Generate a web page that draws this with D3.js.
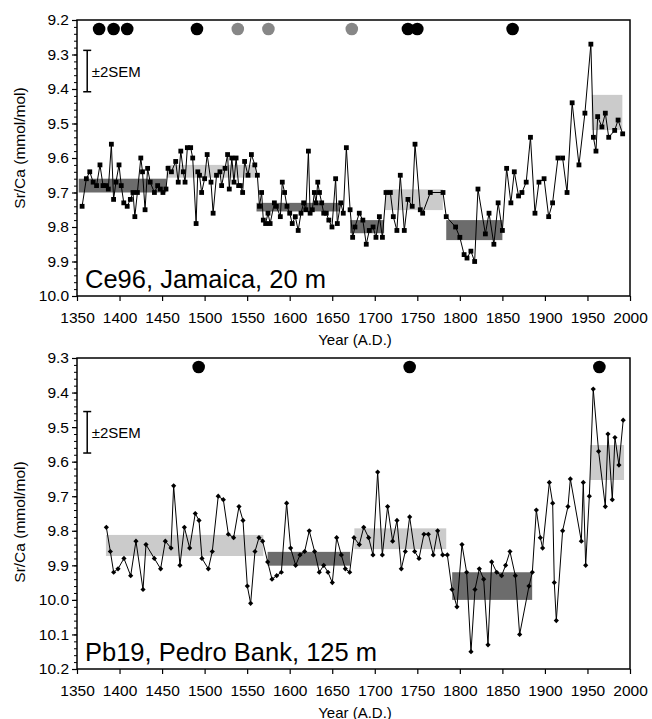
<!DOCTYPE html>
<html>
<head>
<meta charset="utf-8">
<script src="https://cdn.jsdelivr.net/npm/d3@7/dist/d3.min.js"></script>
<style>
  body { margin: 0; background: #fff; }
  svg text { font-family: "Liberation Sans", Arial, sans-serif; fill: #000; }
</style>
</head>
<body>
<script>
// ---- data: Ce96, Jamaica (20 m) ----
var ce96Years = [1356,1361,1365,1369,1373,1377,1380.6,1383.7,1386.8,1390.4,1393,1395.8,1399.4,1402,1405,1409,1412.7,1415.8,1418,1421,
  1425,1427,1430,1433,1436,1441,1444.8,1448,1451,1454.6,1457,1461,1466,1469,1472,1475,1477,1479.7,1483.6,1486,
  1490,1492,1494,1496.5,1500,1503,1507.5,1510,1514,1518,1520,1524,1527,1529,1532,1534.5,1537,1540,1542,1544.7,
  1547,1551,1555,1559,1562,1564.5,1567,1569,1571.7,1574.5,1577,1582,1584.3,1589,1591.3,1594,1596.8,1600,1603,1606.6,
  1610,1613.3,1616.4,1619,1622,1624,1626.6,1629,1631,1633,1635,1637.6,1640,1643,1646,1649.7,1654,1656,1660,1663,
  1666.6,1671,1674,1676.7,1681.8,1686,1690,1693.6,1698,1701.4,1705.4,1709,1713.2,1718.3,1721.8,1726,1730,1734.7,1739,1744,
  1747.3,1753.5,1756.3,1765.3,1780.2,1784,1795,1800,1805,1808.4,1813,1817.4,1821.3,1830,1834.3,1840,1845,1850,1855,1860,
  1864,1869,1873,1878,1883,1888.3,1893,1899,1904.4,1909,1915.3,1920.8,1926,1932,1940,1947,1954,1957,1960,1962,
  1967,1971,1975,1982,1986,1991.4];
var ce96SrCa = [9.74,9.66,9.64,9.67,9.68,9.62,9.68,9.68,9.69,9.56,9.72,9.67,9.62,9.68,9.73,9.74,9.72,9.70,9.77,9.70,
  9.60,9.64,9.75,9.63,9.67,9.70,9.68,9.69,9.70,9.69,9.63,9.64,9.61,9.67,9.58,9.64,9.67,9.57,9.57,9.60,
  9.79,9.64,9.65,9.70,9.66,9.59,9.67,9.76,9.65,9.64,9.68,9.63,9.59,9.69,9.60,9.67,9.60,9.68,9.68,9.70,
  9.61,9.65,9.59,9.62,9.65,9.74,9.70,9.78,9.79,9.76,9.79,9.73,9.74,9.77,9.67,9.70,9.74,9.76,9.79,9.77,
  9.81,9.76,9.73,9.75,9.58,9.76,9.75,9.70,9.73,9.67,9.70,9.73,9.76,9.76,9.78,9.80,9.66,9.79,9.73,9.76,
  9.57,9.75,9.83,9.80,9.76,9.78,9.85,9.81,9.80,9.83,9.77,9.83,9.70,9.70,9.77,9.81,9.65,9.81,9.72,9.74,
  9.56,9.75,9.76,9.70,9.70,9.77,9.80,9.83,9.88,9.89,9.87,9.90,9.69,9.82,9.76,9.85,9.73,9.81,9.63,9.73,
  9.64,9.71,9.70,9.67,9.54,9.76,9.67,9.66,9.77,9.73,9.60,9.60,9.70,9.44,9.62,9.47,9.27,9.54,9.58,9.48,
  9.51,9.47,9.54,9.52,9.49,9.53];
var ce96Bands = [
  {from: 1352, to: 1455, lo: 9.66, hi: 9.70, kind: "cool"},
  {from: 1455, to: 1561, lo: 9.62, hi: 9.657, kind: "warm"},
  {from: 1561, to: 1659, lo: 9.73, hi: 9.755, kind: "cool"},
  {from: 1671, to: 1711, lo: 9.78, hi: 9.818, kind: "cool"},
  {from: 1712, to: 1780, lo: 9.691, hi: 9.751, kind: "warm"},
  {from: 1784, to: 1850, lo: 9.78, hi: 9.838, kind: "cool"},
  {from: 1955, to: 1991, lo: 9.417, hi: 9.519, kind: "warm"}
];
var ce96Dates = [1376, 1393, 1409, 1491, 1539, 1575, 1673, 1739, 1750, 1862];
var ce96DateKind = ["u", "u", "u", "u", "c", "c", "c", "u", "u", "u"];

// ---- data: Pb19, Pedro Bank (125 m) ----
var pb19Years = [1384.5,1389.2,1393.1,1398.2,1405.2,1413.1,1419.3,1427.6,1431.1,1440.9,1448.3,1453.8,1460.5,1463.6,1471,1476.2,1482.4,1489,1493.4,1496.9,
  1504.4,1509,1516,1522,1527.9,1534.1,1540.4,1545.1,1550.2,1554.1,1559.2,1563.9,1568.2,1574.1,1579.2,1584.7,1590.2,1596.4,1601.1,1607,
  1612.1,1617.6,1623,1629.3,1634.8,1640,1645,1650.1,1655.2,1660.7,1665.4,1670.5,1675.6,1681.8,1687,1692.8,1697.9,1703.4,1708.9,1715.1,
  1721,1726.1,1731.2,1735.9,1741,1746.9,1752,1757.8,1763,1768.8,1773.9,1779.8,1785.3,1790.8,1796.6,1802.5,1808,1813.1,1817.8,1822.9,
  1828,1833.1,1837.4,1843.3,1849.1,1853.8,1858.9,1865.2,1870.3,1881.3,1885.2,1889.9,1894.6,1897.3,1905.2,1909.1,1911,1913.4,1920.8,1927.1,
  1929.9,1942.8,1945.1,1947.9,1952.2,1956.8,1963.1,1971,1974.1,1979.2,1982.3,1987,1992];
var pb19SrCa = [9.79,9.86,9.92,9.91,9.88,9.93,9.83,9.97,9.84,9.88,9.91,9.83,9.85,9.67,9.90,9.79,9.85,9.75,9.77,9.88,
  9.91,9.86,9.70,9.71,9.81,9.82,9.73,9.77,9.96,10.01,9.86,9.82,9.83,9.89,9.94,9.93,9.92,9.72,9.85,9.90,
  9.87,9.86,9.80,9.86,9.92,9.90,9.92,9.95,9.82,9.87,9.91,9.92,9.82,9.84,9.79,9.82,9.87,9.63,9.87,9.73,
  9.83,9.77,9.91,9.86,9.76,9.86,9.88,9.81,9.81,9.87,9.80,9.87,9.87,9.97,10.02,9.84,9.92,10.15,9.97,9.91,
  9.94,10.13,9.89,9.92,9.93,9.90,9.86,9.93,10.10,9.96,9.92,9.74,9.82,9.85,9.66,9.72,9.95,10.06,9.80,9.73,
  9.65,9.83,9.66,9.90,9.70,9.39,9.57,9.73,9.52,9.71,9.53,9.61,9.48];
var pb19Bands = [
  {from: 1384, to: 1569, lo: 9.812, hi: 9.873, kind: "warm"},
  {from: 1574, to: 1671, lo: 9.861, hi: 9.901, kind: "cool"},
  {from: 1676, to: 1784, lo: 9.793, hi: 9.853, kind: "warm"},
  {from: 1791, to: 1885, lo: 9.92, hi: 10.0, kind: "cool"},
  {from: 1953, to: 1993, lo: 9.552, hi: 9.653, kind: "warm"}
];
var pb19Dates = [1493, 1741, 1964];
var pb19DateKind = ["u", "u", "u"];

// axis ticks
var yearTicks = [1350,1400,1450,1500,1550,1600,1650,1700,1750,1800,1850,1900,1950,2000];
var ce96Ticks = [9.2,9.3,9.4,9.5,9.6,9.7,9.8,9.9,10.0];
var pb19Ticks = [9.3,9.4,9.5,9.6,9.7,9.8,9.9,10.0,10.1,10.2];

// ±2SEM bar: year, centre value, half width
var semYear = 1362;
var semCentre = [9.348, 9.515];
var semHalf = 0.06;

var W = 652, H = 719;
var left = 77, right = 630;

var svg = d3.select("body").append("svg")
            .attr("width", W)
            .attr("height", H);

var x = d3.scaleLinear().domain([1350, 2000]).range([left, right]);

var draw_panel = function(opt) {
  var y = d3.scaleLinear().domain(opt.yDomain).range([opt.top, opt.bottom]);
  var g = svg.append("g");

  // shaded intervals go under everything
  g.selectAll("rect.band").data(opt.bands).enter().append("rect")
    .attr("x", function(d) { return x(d.from); })
    .attr("width", function(d) { return x(d.to) - x(d.from); })
    .attr("y", function(d) { return y(d.lo); })
    .attr("height", function(d) { return y(d.hi) - y(d.lo); })
    .attr("fill", function(d) { return d.kind == "cool" ? "#6c6c6c" : "#cbcbcb"; });

  var pts = opt.years.map(function(yr, i) { return [yr, opt.values[i]]; });

  g.append("path").datum(pts)
    .attr("d", d3.line().x(function(d) { return x(d[0]); }).y(function(d) { return y(d[1]); }))
    .attr("fill", "none").attr("stroke", "#000").attr("stroke-width", 1);

  if (opt.marker == "square") {
    g.selectAll("rect.pt").data(pts).enter().append("rect")
      .attr("x", function(d) { return x(d[0]) - 2.4; })
      .attr("y", function(d) { return y(d[1]) - 2.4; })
      .attr("width", 4.8).attr("height", 4.8).attr("fill", "#000");
  } else {
    g.selectAll("path.pt").data(pts).enter().append("path")
      .attr("transform", function(d) { return "translate(" + x(d[0]) + "," + y(d[1]) + ")"; })
      .attr("d", "M0,-2.6L2.6,0L0,2.6L-2.6,0Z").attr("fill", "#000");
  }

  // U-series dates along the top
  g.selectAll("circle.date").data(opt.dates).enter().append("circle")
    .attr("cx", function(d) { return x(d); })
    .attr("cy", opt.top + 9)
    .attr("r", 6.3)
    .attr("fill", function(d, i) { return opt.dateKind[i] == "c" ? "#878787" : "#000"; });

  // frame
  g.append("rect")
    .attr("x", left).attr("y", opt.top)
    .attr("width", right - left).attr("height", opt.bottom - opt.top)
    .attr("fill", "none").attr("stroke", "#000").attr("stroke-width", 1.5);

  // y axis: minor then major ticks
  var minor = d3.range(opt.yDomain[0], opt.yDomain[1] + 0.001, 0.02);
  g.append("g").attr("transform", "translate(" + left + ",0)")
    .call(d3.axisLeft(y).tickValues(minor).tickSize(3).tickFormat(""))
    .call(function(a) { a.select(".domain").remove(); a.selectAll("line").attr("stroke-width", 1); });
  g.append("g").attr("transform", "translate(" + left + ",0)")
    .call(d3.axisLeft(y).tickValues(opt.yTicks).tickSize(5).tickPadding(3).tickFormat(d3.format(".1f")))
    .call(function(a) {
      a.select(".domain").remove();
      a.selectAll("line").attr("stroke-width", 1.2);
      a.selectAll("text").style("font-size", "15.5px");
    });

  // x axis
  g.append("g").attr("transform", "translate(0," + opt.bottom + ")")
    .call(d3.axisBottom(x).tickValues(yearTicks).tickSize(5).tickPadding(11).tickFormat(d3.format("d")))
    .call(function(a) {
      a.select(".domain").remove();
      a.selectAll("line").attr("stroke-width", 1.2);
      a.selectAll("text").style("font-size", "15.5px");
    });

  g.append("text")
    .attr("x", 355).attr("y", opt.bottom + 48.5)
    .attr("text-anchor", "middle").style("font-size", "15px")
    .text("Year (A.D.)");

  g.append("text")
    .attr("transform", "translate(25," + opt.labelMid + ") rotate(-90)")
    .attr("text-anchor", "middle").style("font-size", "15.5px")
    .text("Sr/Ca (mmol/mol)");

  // ±2SEM error bar
  var sx = x(semYear), s0 = y(opt.sem - semHalf), s1 = y(opt.sem + semHalf);
  g.append("line").attr("x1", sx).attr("x2", sx).attr("y1", s0).attr("y2", s1)
    .attr("stroke", "#000").attr("stroke-width", 1.5);
  [s0, s1].forEach(function(v) {
    g.append("line").attr("x1", sx - 4).attr("x2", sx + 4).attr("y1", v).attr("y2", v)
      .attr("stroke", "#000").attr("stroke-width", 1.5);
  });
  g.append("text")
    .attr("x", sx + 4.5).attr("y", y(opt.sem) + 5.5)
    .style("font-size", "15px")
    .text("\u00b12SEM");

  // site name
  g.append("text")
    .attr("x", 85).attr("y", opt.bottom - 8)
    .style("font-size", "25.5px")
    .text(opt.label);
};

draw_panel({
  years: ce96Years, values: ce96SrCa, bands: ce96Bands,
  dates: ce96Dates, dateKind: ce96DateKind,
  yDomain: [9.2, 10.0], yTicks: ce96Ticks,
  top: 20, bottom: 296, labelMid: 148,
  sem: semCentre[0], marker: "square",
  label: "Ce96, Jamaica, 20 m"
});

draw_panel({
  years: pb19Years, values: pb19SrCa, bands: pb19Bands,
  dates: pb19Dates, dateKind: pb19DateKind,
  yDomain: [9.3, 10.2], yTicks: pb19Ticks,
  top: 358, bottom: 669, labelMid: 522,
  sem: semCentre[1], marker: "diamond",
  label: "Pb19, Pedro Bank, 125 m"
});
</script>
</body>
</html>
